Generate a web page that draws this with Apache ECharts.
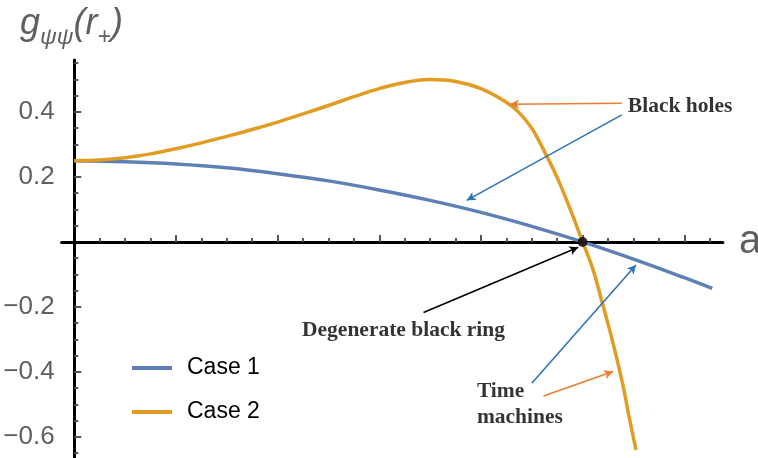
<!DOCTYPE html>
<html>
<head>
<meta charset="utf-8">
<script src="https://cdn.jsdelivr.net/npm/echarts@6/dist/echarts.min.js"></script>
<style>
  html, body { margin: 0; padding: 0; background: #fff; }
  #main { width: 758px; height: 458px; }
</style>
</head>
<body>
<div id="main"></div>
<script>
// values
const aCase1 = [0, 0.1, 0.2, 0.3, 0.4, 0.5, 0.6, 0.7, 0.8, 0.9, 1.0, 1.1, 1.2, 1.255]
const gCase1 = [0.25, 0.247, 0.24, 0.228, 0.21, 0.188, 0.16, 0.128, 0.091, 0.048, 0, -0.053, -0.11, -0.143]

const aCase2 = [0, 0.05, 0.1, 0.15, 0.2, 0.25, 0.3, 0.35, 0.4, 0.45, 0.5, 0.55, 0.6, 0.65, 0.7, 0.75,
  0.8, 0.85, 0.875, 0.9, 0.925, 0.95, 0.975, 1.0, 1.02, 1.04, 1.06, 1.08, 1.09, 1.105]
const gCase2 = [0.25, 0.252, 0.259, 0.271, 0.287, 0.305, 0.325, 0.346, 0.369, 0.394, 0.42, 0.447, 0.472, 0.491, 0.5, 0.494,
  0.472, 0.43, 0.398, 0.35, 0.278, 0.198, 0.103, 0, -0.083, -0.195, -0.312, -0.445, -0.527, -0.64]

const degeneratePoint = [[1.0, 0]]

const xMajor = [0.2, 0.4, 0.6, 0.8, 1.0, 1.2]
const xMinor = [0.05, 0.1, 0.15, 0.25, 0.3, 0.35, 0.45, 0.5, 0.55, 0.65, 0.7, 0.75, 0.85, 0.9, 0.95, 1.05, 1.1, 1.15, 1.25]
const yMajor = [-0.6, -0.4, -0.2, 0.2, 0.4]
const yMinor = [-0.65, -0.55, -0.5, -0.45, -0.35, -0.3, -0.25, -0.15, -0.1, -0.05,
  0.05, 0.1, 0.15, 0.25, 0.3, 0.35, 0.45, 0.5, 0.55]

// annotation text (a, g, text)
const notes = [
  [1.089, 0.4175, 'Black holes'],
  [0.448, -0.271, 'Degenerate black ring'],
  [0.792, -0.5015, 'Time\nmachines']
]
// annotation arrows: start -> head
const arrowFrom = [[1.077, 0.427], [1.077, 0.391], [0.687, -0.2175], [0.900, -0.435], [0.923, -0.474]]
const arrowTo = [[0.857, 0.424], [0.772, 0.128], [0.9915, -0.0163], [1.105, -0.0708], [1.060, -0.399]]
const arrowColor = ['#ED7D31', '#2E75B6', '#000000', '#2E75B6', '#ED7D31']

const pair = (xs, ys) => xs.map((x, i) => [x, ys[i]])
const grey = '#5f5f5f'
const sans = "'Liberation Sans', Arial, sans-serif"

const myChart = echarts.init(document.getElementById('main'))

const option = {
  animation: false,
  color: ['#5E81B5', '#E19C24'],
  title: {
    left: 15,
    top: 1,
    text: '{m|g}{s|ψψ}{m|(r}{s|+}{m|)}',
    textStyle: {
      fontWeight: 'normal',
      rich: {
        m: { fontSize: 36, fontStyle: 'italic', fontWeight: 'normal', color: grey, fontFamily: sans, verticalAlign: 'bottom', padding: [0, 0, 7, 0] },
        s: { fontSize: 23, fontStyle: 'italic', fontWeight: 'normal', color: grey, fontFamily: sans, verticalAlign: 'bottom', padding: [0, 0, 0, 0] }
      }
    }
  },
  legend: {
    data: ['Case 1', 'Case 2'],
    orient: 'vertical',
    left: 127,
    top: 351,
    icon: 'rect',
    itemWidth: 40,
    itemHeight: 4,
    itemGap: 20,
    textStyle: { fontSize: 23, color: '#000', fontFamily: sans, lineHeight: 24, padding: [0, 0, 0, 10] }
  },
  grid: {
    left: 61.6,
    right: 35.1,
    top: 60,
    bottom: 0,
    outerBoundsMode: 'none'
  },
  xAxis: [
    {
      type: 'value',
      min: -0.025,
      max: 1.276,
      position: 'bottom',
      name: 'a',
      nameLocation: 'end',
      nameGap: 16,
      nameTextStyle: { fontSize: 40, color: grey, fontFamily: sans },
      axisLine: { onZero: true, lineStyle: { color: '#000', width: 3 } },
      axisTick: { inside: true, length: 7, customValues: xMajor, lineStyle: { color: '#555', width: 2 } },
      axisLabel: { customValues: xMajor, formatter: v => v.toFixed(1), color: grey, fontSize: 26, fontFamily: sans, margin: 10 },
      splitLine: { show: false }
    },
    {
      type: 'value',
      min: -0.025,
      max: 1.276,
      position: 'bottom',
      axisLine: { onZero: true, show: false },
      axisTick: { inside: true, length: 4, customValues: xMinor, lineStyle: { color: '#555', width: 2 } },
      axisLabel: { show: false },
      splitLine: { show: false }
    }
  ],
  yAxis: [
    {
      type: 'value',
      min: -0.665,
      max: 0.56,
      position: 'left',
      axisLine: { onZero: true, lineStyle: { color: '#000', width: 3 } },
      axisTick: { inside: true, length: 7, customValues: yMajor, lineStyle: { color: '#555', width: 2 } },
      axisLabel: {
        customValues: yMajor,
        formatter: v => (v < 0 ? '\u2212' + Math.abs(v).toFixed(1) : v.toFixed(1)),
        color: grey, fontSize: 26, fontFamily: sans, margin: 7
      },
      splitLine: { show: false }
    },
    {
      type: 'value',
      min: -0.665,
      max: 0.56,
      position: 'left',
      axisLine: { onZero: true, show: false },
      axisTick: { inside: true, length: 4, customValues: yMinor, lineStyle: { color: '#555', width: 2 } },
      axisLabel: { show: false },
      splitLine: { show: false }
    }
  ],
  series: [
    {
      name: 'Case 1',
      type: 'line',
      smooth: 0.4,
      showSymbol: false,
      lineStyle: { width: 3.5 },
      data: pair(aCase1, gCase1),
      z: 3
    },
    {
      name: 'Case 2',
      type: 'line',
      smooth: 0.4,
      showSymbol: false,
      lineStyle: { width: 3.5 },
      data: pair(aCase2, gCase2),
      z: 3
    },
    {
      name: 'arrows',
      type: 'line',
      data: [],
      silent: true,
      markLine: {
        silent: true,
        symbol: ['none', 'arrow'],
        symbolSize: [7, 9],
        label: { show: false },
        data: arrowFrom.map((p, i) => [
          { coord: p, lineStyle: { color: arrowColor[i], width: 1.6, type: 'solid' }, itemStyle: { color: arrowColor[i] } },
          { coord: arrowTo[i] }
        ])
      },
      z: 4
    },
    {
      name: 'notes',
      type: 'scatter',
      silent: true,
      symbolSize: 0,
      data: notes,
      label: {
        show: true,
        position: 'right',
        distance: 0,
        formatter: p => p.data[2],
        fontFamily: "'Liberation Serif', 'Times New Roman', serif",
        fontWeight: 'bold',
        fontSize: 21.5,
        lineHeight: 26,
        color: '#000',
        align: 'left'
      },
      z: 5
    },
    {
      name: 'dot',
      type: 'scatter',
      symbolSize: 10,
      itemStyle: { color: '#000' },
      data: degeneratePoint,
      z: 6
    }
  ]
}

myChart.setOption(option, true)
</script>
</body>
</html>
